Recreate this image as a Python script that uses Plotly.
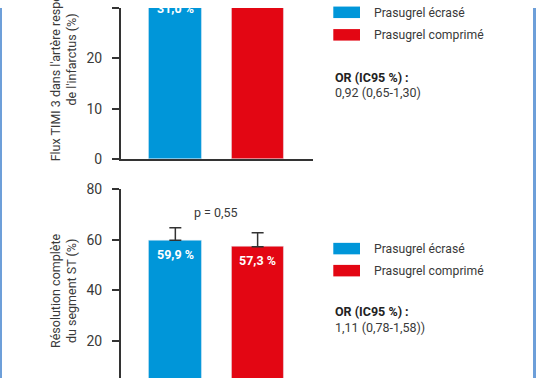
import plotly.graph_objects as go

# ---------------- data ----------------
groups = ["Prasugrel écrasé", "Prasugrel comprimé"]
timi_values = [31.0, 32.6]
timi_labels = ["31,0 %", "32,6 %"]
st_values = [59.9, 57.3]
st_labels = ["59,9 %", "57,3 %"]
st_err_plus = [4.9, 5.6]
top_ticks = [0, 10, 20, 30]
bottom_ticks = [0, 20, 40, 60, 80]
top_or = ["OR (IC95 %) :", "0,92 (0,65-1,30)"]
bottom_or = ["OR (IC95 %) :", "1,11 (0,78-1,58))"]
p_text = "p = 0,55"
top_title = "Flux TIMI 3 dans l'artère responsable<br>de l'infarctus (%)"
bottom_title = "Résolution complète<br>du segment ST (%)"

# ---------------- style ----------------
W, H = 536, 386
BLUE = "#0096d9"
RED = "#e30613"
colors = [BLUE, RED]
AX = "#333333"
TXT = "#3a3a3a"
FONT = "Roboto"


def px(x):
    return x / W


def py(y):
    return 1 - y / H


TOP_DOM = [py(157.5), 1]
TOP_RANGE = [0, 30]
BOT_DOM = [0, py(189.3)]
BOT_RANGE = [5.35, 80]


def top_to_paper(v):
    # map a value of the top y axis to paper coordinates (same scale as yaxis)
    return TOP_DOM[0] + (v - TOP_RANGE[0]) / (TOP_RANGE[1] - TOP_RANGE[0]) * (TOP_DOM[1] - TOP_DOM[0])


fig = go.Figure()

fig.add_trace(go.Bar(
    x=groups, y=timi_values, marker_color=colors, width=0.64,
    xaxis="x", yaxis="y", showlegend=False, cliponaxis=True,
))

fig.add_trace(go.Bar(
    x=groups, y=st_values, marker_color=colors, width=0.64,
    error_y=dict(type="data", symmetric=False, array=st_err_plus,
                 arrayminus=[0, 0], color=AX, thickness=1.5, width=6),
    xaxis="x2", yaxis="y2", showlegend=False,
))

xdom = [px(120.7), px(313)]
xrange = [-0.664, 1.673]

axis_common = dict(showgrid=False, zeroline=False, linecolor=AX, linewidth=1.5,
                   tickfont=dict(family=FONT, size=14, color=TXT))

fig.update_layout(
    width=W, height=H,
    margin=dict(l=0, r=0, t=0, b=0),
    paper_bgcolor="white", plot_bgcolor="white",
    font=dict(family=FONT, color=TXT),
    bargap=0,
    xaxis=dict(domain=xdom, range=xrange, type="category", showticklabels=False,
               ticks="", showline=True, anchor="y", **axis_common),
    yaxis=dict(domain=TOP_DOM, range=TOP_RANGE, tickvals=top_ticks,
               ticks="outside", ticklen=7, tickwidth=1.5, tickcolor=AX,
               ticklabelstandoff=7,
               showline=True, anchor="x", **axis_common),
    xaxis2=dict(domain=xdom, range=xrange, type="category", showticklabels=False,
                ticks="", showline=False, anchor="y2", **axis_common),
    yaxis2=dict(domain=BOT_DOM, range=BOT_RANGE, tickvals=bottom_ticks,
                ticks="outside", ticklen=7, tickwidth=1.5, tickcolor=AX,
                ticklabelstandoff=7,
                showline=True, anchor="x2", **axis_common),
)

annotations = []
shapes = []

# value labels inside bars
lab_font = dict(color="white", size=12.5, family=FONT, weight="bold")
for g, v, t in zip(groups, timi_values, timi_labels):
    annotations.append(dict(text=t, xref="x", x=g, yref="paper", y=top_to_paper(v),
                            yshift=-5.5, yanchor="middle", showarrow=False, font=lab_font))
for g, v, t in zip(groups, st_values, st_labels):
    annotations.append(dict(text=t, xref="x2", x=g, yref="y2", y=v,
                            yshift=-14, yanchor="middle", showarrow=False, font=lab_font))

# y-axis titles
annotations.append(dict(text=top_title, textangle=-90, xref="paper", x=px(63.5),
                        yref="y", y=19.7, showarrow=False, xanchor="center",
                        yanchor="middle", font=dict(size=12.5, color=TXT, family=FONT)))
annotations.append(dict(text=bottom_title, textangle=-90, xref="paper", x=px(63.5),
                        yref="y2", y=40, showarrow=False, xanchor="center",
                        yanchor="middle", font=dict(size=12.5, color=TXT, family=FONT)))

# p-value
annotations.append(dict(text=p_text, xref="x2", x=0.5, yref="y2", y=71,
                        showarrow=False, font=dict(size=12.5, color=TXT, family=FONT)))

# legends (one per panel)
for (sw_tops, or_ys, or_txt) in [((-1.5, 22), (72, 88), top_or),
                                 ((245, 268), (316.7, 333), bottom_or)]:
    for name, col, top in zip(groups, colors, sw_tops):
        shapes.append(dict(type="rect", xref="paper", yref="paper",
                           x0=px(333.3), x1=px(360), y0=py(top + 12), y1=py(top),
                           fillcolor=col, line=dict(width=0)))
        annotations.append(dict(text=name, xref="paper", yref="paper", x=px(371.5),
                                y=py(top + 6.5), xanchor="left", yanchor="middle",
                                showarrow=False,
                                font=dict(size=12.2, color=TXT, family=FONT)))
    annotations.append(dict(text="<b>" + or_txt[0] + "</b>", xref="paper", yref="paper",
                            x=px(332.5), y=py(or_ys[0]), xanchor="left", yanchor="middle",
                            showarrow=False, font=dict(size=12.5, color="#222", family=FONT)))
    annotations.append(dict(text=or_txt[1], xref="paper", yref="paper",
                            x=px(332.5), y=py(or_ys[1]), xanchor="left", yanchor="middle",
                            showarrow=False, font=dict(size=12.5, color=TXT, family=FONT)))

# frame edges
shapes.append(dict(type="line", xref="paper", yref="paper", x0=px(1), x1=px(1), y0=0, y1=1,
                   line=dict(color="#6d9fd9", width=2)))
shapes.append(dict(type="line", xref="paper", yref="paper", x0=px(534.5), x1=px(534.5),
                   y0=0, y1=1, line=dict(color="#6d9fd9", width=3)))

fig.update_layout(annotations=annotations, shapes=shapes)

fig.write_html("out.html",
               config={"displayModeBar": False},
               post_script="document.body.style.margin='0px';document.body.style.overflow='hidden';")
